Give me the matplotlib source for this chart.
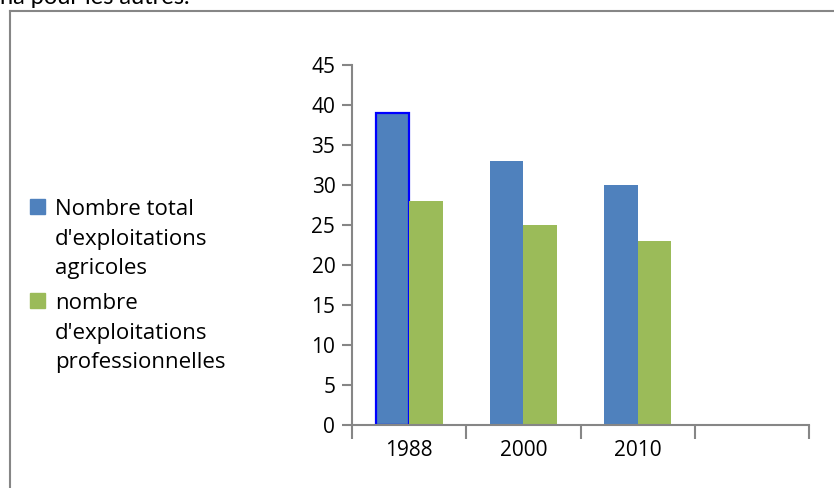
import matplotlib
matplotlib.use("Agg")
import matplotlib.pyplot as plt
from matplotlib.patches import Rectangle
from matplotlib.lines import Line2D

categories = ["1988", "2000", "2010"]
n_slots = 4  # the category axis has one empty slot at the end
series_names = [
    "Nombre total\nd'exploitations\nagricoles",
    "nombre\nd'exploitations\nprofessionnelles",
]
total = [39, 33, 30]
professional = [28, 25, 23]
y_ticks = [0, 5, 10, 15, 20, 25, 30, 35, 40, 45]

W, H = 834, 488
FONT = "Open Sans"
GRAY = "#868686"
BLUE = "#4F81BD"
GREEN = "#9BBB59"

fig = plt.figure(figsize=(W / 100, H / 100), dpi=100)
fig.patch.set_facecolor("white")


def fx(px):
    return px / W


def fy(py):
    return 1 - py / H


ax = fig.add_axes([fx(352), fy(425), fx(809) - fx(352), fy(65) - fy(425)])
bw = 0.293
xs = [i + 0.5 for i in range(len(categories))]
b1 = ax.bar([x - bw / 2 for x in xs], total, width=bw, color=BLUE, zorder=2)
b2 = ax.bar([x + bw / 2 for x in xs], professional, width=bw, color=GREEN, zorder=2)
# first bar is highlighted (selected) with a blue outline
b1[0].set_edgecolor("#0000FF")
b1[0].set_linewidth(1.6)

ax.set_xlim(0, n_slots)
ax.set_ylim(y_ticks[0], y_ticks[-1])
ax.set_yticks(y_ticks)
ax.set_yticklabels([str(v) for v in y_ticks], fontsize=15, family=FONT)
ax.set_xticks(range(n_slots + 1))
ax.set_xticklabels([])
ax.set_xticks(xs, minor=True)
ax.set_xticklabels(categories, minor=True, fontsize=15, family=FONT)
ax.tick_params(axis="x", which="major", direction="out", length=10, width=1.5, color=GRAY)
ax.tick_params(axis="x", which="minor", length=0, pad=11)
ax.tick_params(axis="y", direction="out", length=7, width=1.5, color=GRAY, pad=5)
for s in ["top", "right"]:
    ax.spines[s].set_visible(False)
for s in ["left", "bottom"]:
    ax.spines[s].set_color(GRAY)
    ax.spines[s].set_linewidth(1.5)
    ax.spines[s].set_zorder(3)

# outer chart frame (only left and top visible within the crop)
fig.add_artist(Line2D([fx(10), 1.0], [fy(10.5), fy(10.5)], transform=fig.transFigure, color=GRAY, lw=1.5))
fig.add_artist(Line2D([fx(10), fx(10)], [fy(10.5), 0.0], transform=fig.transFigure, color=GRAY, lw=1.5))

# text from the surrounding document, cut off at the top
fig.text(fx(0), fy(3.5), "ha pour les autres.", fontsize=17, family="Lato", va="baseline", ha="left")

# legend drawn manually: handle aligned with first line of each label
colors = [BLUE, GREEN]
first_baselines = [215, 309]
line_step = 29.5
for name, col, base in zip(series_names, colors, first_baselines):
    fig.add_artist(Rectangle((fx(30), fy(base - 1)), fx(15), fy(0) - fy(15),
                             transform=fig.transFigure, color=col))
    for k, line in enumerate(name.split("\n")):
        fig.text(fx(55), fy(base + k * line_step), line, fontsize=16, family=FONT,
                 va="baseline", ha="left")

fig.savefig("out.png", dpi=100)
